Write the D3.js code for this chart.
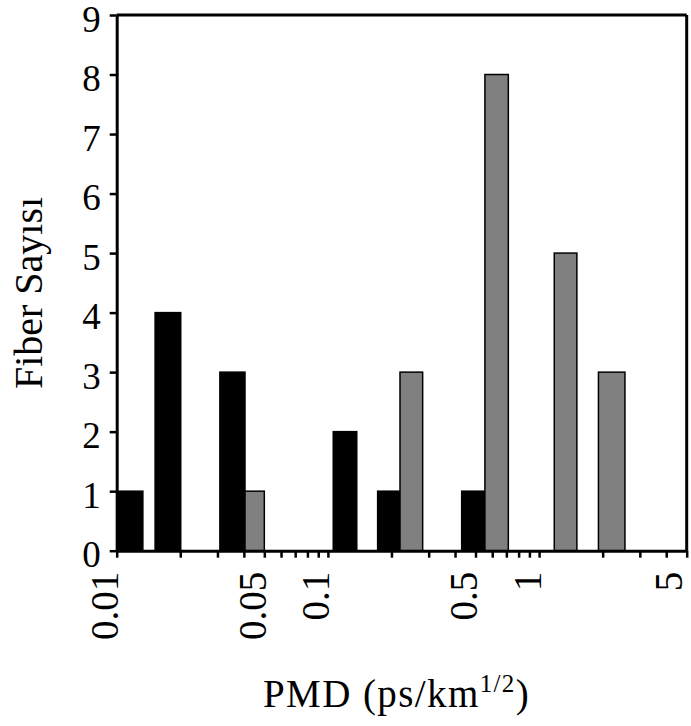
<!DOCTYPE html>
<html>
<head>
<meta charset="utf-8">
<script src="https://cdn.jsdelivr.net/npm/d3@7"></script>
<style>
  html, body { margin: 0; padding: 0; background: #fff; }
  svg { display: block; }
  text { font-family: "Liberation Serif", "Times New Roman", serif; fill: #000; }
</style>
</head>
<body>
<svg id="chart" width="691" height="726"></svg>
<script>
// ---- data ----
// PMD bins (ps/km^1/2): lower and upper edge of each bar, and number of fibers
const series1Lo    = [0.01, 0.0152, 0.0308, 0.106, 0.172, 0.430];
const series1Hi    = [0.0133, 0.0201, 0.0405, 0.137, 0.2195, 0.554];
const series1Count = [1, 4, 3, 2, 1, 1];

const series2Lo    = [0.0405, 0.2195, 0.554, 1.18, 1.91];
const series2Hi    = [0.050, 0.281, 0.715, 1.51, 2.55];
const series2Count = [1, 3, 8, 5, 3];

const xDomain      = [0.01, 5];
const xLabelValues = [0.01, 0.05, 0.1, 0.5, 1, 5];
const xLabelTexts  = ["0.01", "0.05", "0.1", "0.5", "1", "5"];
const yTicks       = [0, 1, 2, 3, 4, 5, 6, 7, 8, 9];
const yTitle       = "Fiber Sayısı";

// ---- layout ----
const W = 691;
const svg = d3.select("#chart");
const L = 116.7, R = 686.7, T = 15, B = 550.7;

const x = d3.scaleLog().domain(xDomain).range([L, R]);
const y = d3.scaleLinear().domain([0, 9]).range([B, T]);

const bars1 = series1Lo.map((lo, i) => ({lo, hi: series1Hi[i], n: series1Count[i]}));
const bars2 = series2Lo.map((lo, i) => ({lo, hi: series2Hi[i], n: series2Count[i]}));

// bars
svg.append("g").selectAll("rect").data(bars1).join("rect")
  .attr("x", d => x(d.lo)).attr("width", d => x(d.hi) - x(d.lo))
  .attr("y", d => y(d.n)).attr("height", d => y(0) - y(d.n))
  .attr("fill", "#000").attr("stroke", "#000").attr("stroke-width", 1.5);

svg.append("g").selectAll("rect").data(bars2).join("rect")
  .attr("x", d => x(d.lo)).attr("width", d => x(d.hi) - x(d.lo))
  .attr("y", d => y(d.n)).attr("height", d => y(0) - y(d.n))
  .attr("fill", "#808080").attr("stroke", "#000").attr("stroke-width", 1.5);

// frame (top and right)
svg.append("line").attr("x1", L).attr("x2", R).attr("y1", T).attr("y2", T)
  .attr("stroke", "#000").attr("stroke-width", 3);
svg.append("line").attr("x1", R).attr("x2", R).attr("y1", T).attr("y2", B)
  .attr("stroke", "#000").attr("stroke-width", 3);

// y axis
const yAxis = svg.append("g").attr("transform", `translate(${L},0)`)
  .call(d3.axisLeft(y).tickValues(yTicks).tickSizeInner(7).tickSizeOuter(0).tickPadding(9));
yAxis.select(".domain").attr("stroke-width", 3);
yAxis.selectAll(".tick line").attr("stroke-width", 2.5);
yAxis.selectAll(".tick text").attr("font-size", 37).attr("dy", "0.44em")
  .style("font-family", "'Liberation Serif', serif");

// x axis (log, minor ticks at 1..9 x 10^k)
const xTickVals = x.ticks().filter(v => v >= xDomain[0] && v <= xDomain[1] + 1e-9);
const labelFor = v => {
  const i = xLabelValues.findIndex(t => Math.abs(t - v) < 1e-9);
  return i >= 0 ? xLabelTexts[i] : "";
};
const xAxis = svg.append("g").attr("transform", `translate(0,${B})`)
  .call(d3.axisBottom(x).tickValues(xTickVals).tickFormat(labelFor)
    .tickSizeInner(7).tickSizeOuter(0));
xAxis.select(".domain").attr("stroke-width", 3);
xAxis.selectAll(".tick line").attr("stroke-width", 2.5);
xAxis.selectAll(".tick text")
  .attr("transform", "rotate(-90)")
  .attr("text-anchor", "end")
  .attr("x", -21)
  // keep the descent of the last label inside the page
  .attr("y", d => Math.min(1, W - 10 - x(d)))
  .attr("dy", 0)
  .attr("font-size", 39)
  .style("font-family", "'Liberation Serif', serif");

// y title
svg.append("text")
  .attr("transform", `translate(42,293) rotate(-90)`)
  .attr("text-anchor", "middle")
  .attr("font-size", 40)
  .text(yTitle);

// x title with superscript
const xt = svg.append("text").attr("x", 263).attr("y", 707)
  .attr("font-size", 39).attr("letter-spacing", 1.4);
xt.append("tspan").text("PMD (ps/km");
xt.append("tspan").attr("font-size", 25).attr("dy", -15).text("1/2");
xt.append("tspan").attr("dy", 15).text(")");
</script>
</body>
</html>
